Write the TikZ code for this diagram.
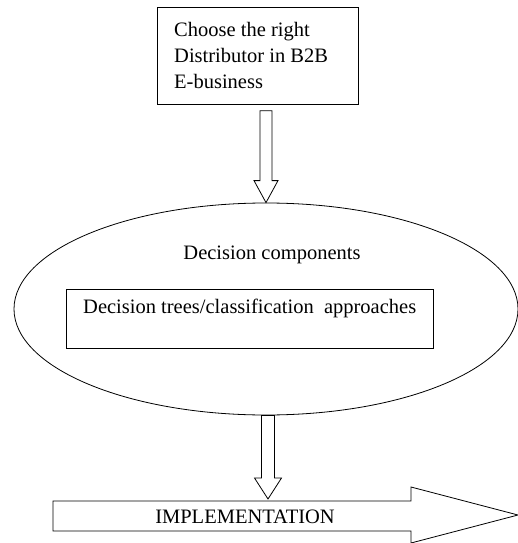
\documentclass[tikz,border=0pt]{standalone}
\usepackage{fontspec}
\setmainfont{Liberation Serif}
\usetikzlibrary{shapes.geometric,calc}
\begin{document}
\begin{tikzpicture}[x=1pt,y=-1pt,
  line/.style={draw=black,line width=0.8pt},
  txt/.style={font=\fontsize{20.5}{26}\selectfont,inner sep=0pt},
  hollow/.style={line,fill=white,line join=miter}]
\useasboundingbox (0,0) rectangle (518,543);
% top box
\node[line,rectangle,minimum width=201pt,minimum height=97pt,inner sep=0pt,anchor=north west] (box1) at (157,7) {};
\node[txt,align=left,anchor=north west] (t1) at (174,22) {Choose the right\\Distributor in B2B\\E-business};
% ellipse
\node[line,ellipse,minimum width=504pt,minimum height=212pt,inner sep=0pt] (ell) at (266,309) {};
\node[txt] (t2) at (272,255) {Decision components};
% inner box
\node[line,rectangle,minimum width=367pt,minimum height=59pt,inner sep=0pt,anchor=north west] (box2) at (66,289) {};
\node[txt,anchor=west] (t3) at (83,308) {Decision trees/classification\ \ approaches};
% arrow 1
\coordinate (a1e) at (ell.north);
\coordinate (a1s) at ($(a1e |- box1.south)+(0,6)$);
\draw[hollow] ($(a1s)+(-6,0)$) -- ($(a1e)+(-6,-22)$) -- ($(a1e)+(-12,-22)$) -- (a1e)
  -- ($(a1e)+(12,-22)$) -- ($(a1e)+(6,-22)$) -- ($(a1s)+(6,0)$) -- cycle;
% implementation arrow
\draw[hollow] (53,501) -- (411,501) -- (411,487) -- (518,515) -- (411,543) -- (411,531) -- (53,531) -- cycle;
\node[txt] (t4) at (245,517) {IMPLEMENTATION};
% arrow 2
\coordinate (a2s) at ($(ell.south)+(2,0)$);
\coordinate (a2e) at (268,499);
\draw[hollow] ($(a2s)+(-6.5,0)$) -- ($(a2e)+(-6.5,-21)$) -- ($(a2e)+(-13.5,-21)$) -- (a2e)
  -- ($(a2e)+(13.5,-21)$) -- ($(a2e)+(6.5,-21)$) -- ($(a2s)+(6.5,0)$) -- cycle;
\end{tikzpicture}
\end{document}
